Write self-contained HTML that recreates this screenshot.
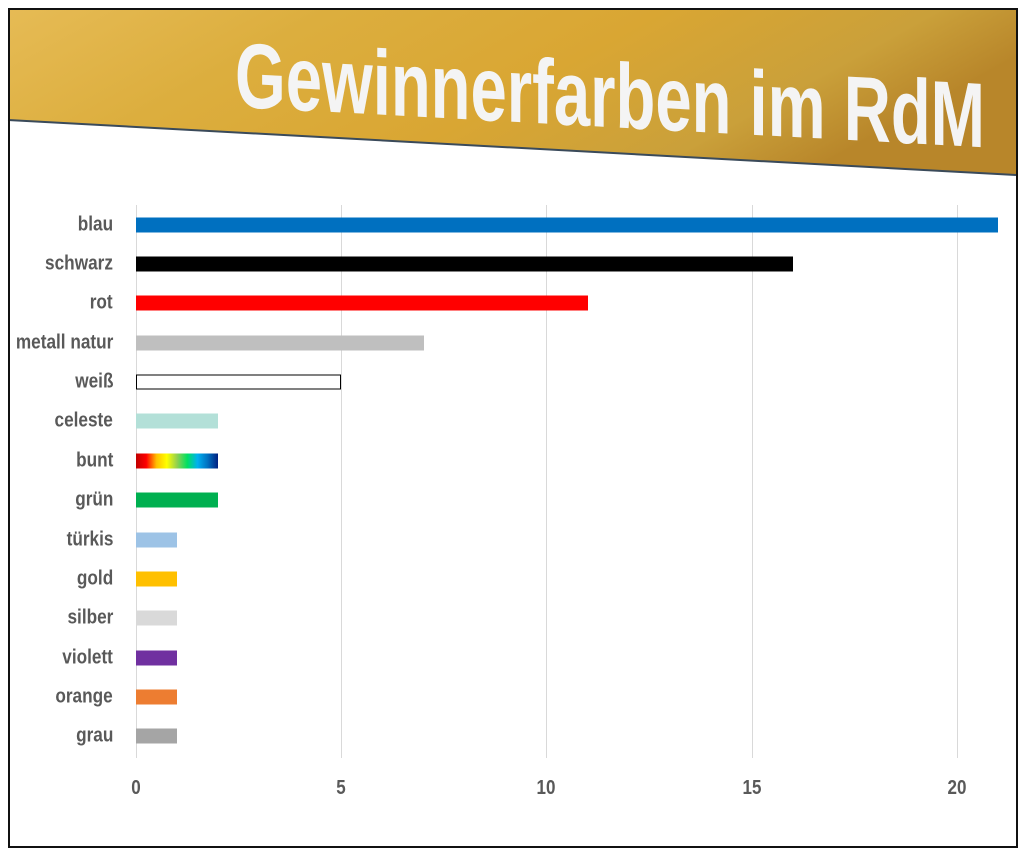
<!DOCTYPE html>
<html><head><meta charset="utf-8"><style>
body{margin:0;width:1024px;height:854px;background:#fff;overflow:hidden;position:relative;font-family:"Liberation Sans Narrow","Liberation Sans",sans-serif}
#frame{position:absolute;left:8px;top:8px;width:1006px;height:836px;border:2px solid #111;box-sizing:content-box}
.lbl{position:absolute;right:911px;font-weight:bold;font-size:20px;color:#595959;transform:translateY(-50%) scaleX(0.86);transform-origin:right center;white-space:nowrap}
.bar{position:absolute;left:136px;height:15px;transform:translateY(-50%)}
.grid{position:absolute;top:205px;height:553px;width:1px;background:#d9d9d9}
.tick{position:absolute;top:777px;font-weight:bold;font-size:20px;color:#595959;transform:translateX(-50%) scaleX(0.85)}
</style></head><body>
<svg width="1024" height="854" style="position:absolute;left:0;top:0">
<defs><linearGradient id="g" x1="0" y1="0" x2="1" y2="0.3">
<stop offset="0" stop-color="#e6bb55"/><stop offset="0.3" stop-color="#dcae3e"/><stop offset="0.6" stop-color="#d9a633"/><stop offset="0.85" stop-color="#caa03a"/><stop offset="1" stop-color="#b8862a"/></linearGradient></defs>
<polygon points="8,8 1016,8 1016,175 8,120" fill="url(#g)"/>
<line x1="8" y1="120" x2="1016" y2="175" stroke="#3a4a5a" stroke-width="2"/>
<text x="235" y="105" font-family="Liberation Sans Narrow, Liberation Sans, sans-serif" font-weight="bold" font-size="92" fill="#f4f4f4" textLength="750" lengthAdjust="spacingAndGlyphs" transform="skewY(3.1) translate(0,-11)">Gewinnerfarben im RdM</text>
</svg>
<div id="frame"></div>
<div class="grid" style="left:136px"></div><div class="grid" style="left:341px"></div><div class="grid" style="left:546px"></div><div class="grid" style="left:752px"></div><div class="grid" style="left:957px"></div>
<div class="tick" style="left:136px">0</div><div class="tick" style="left:341px">5</div><div class="tick" style="left:546px">10</div><div class="tick" style="left:752px">15</div><div class="tick" style="left:957px">20</div>

<div class="lbl" style="top:225px">blau</div><div class="bar" style="top:225px;width:862px;background:#0070c0"></div>
<div class="lbl" style="top:264px">schwarz</div><div class="bar" style="top:264px;width:657px;background:#000"></div>
<div class="lbl" style="top:303px">rot</div><div class="bar" style="top:303px;width:452px;background:#ff0000"></div>
<div class="lbl" style="top:343px">metall natur</div><div class="bar" style="top:343px;width:288px;background:#bfbfbf"></div>
<div class="lbl" style="top:382px">weiß</div><div class="bar" style="top:382px;width:203px;height:13px;border:1px solid #000;background:#fff"></div>
<div class="lbl" style="top:421px">celeste</div><div class="bar" style="top:421px;width:82px;background:#b3e0d8"></div>
<div class="lbl" style="top:461px">bunt</div><div class="bar" style="top:461px;width:82px;background:linear-gradient(90deg,#c00000,#ff0000,#ffc000,#ffff00,#92d050,#00e060,#00b0f0,#0070c0,#002080)"></div>
<div class="lbl" style="top:500px">grün</div><div class="bar" style="top:500px;width:82px;background:#00b050"></div>
<div class="lbl" style="top:540px">türkis</div><div class="bar" style="top:540px;width:41px;background:#9dc3e6"></div>
<div class="lbl" style="top:579px">gold</div><div class="bar" style="top:579px;width:41px;background:#ffc000"></div>
<div class="lbl" style="top:618px">silber</div><div class="bar" style="top:618px;width:41px;background:#d9d9d9"></div>
<div class="lbl" style="top:658px">violett</div><div class="bar" style="top:658px;width:41px;background:#7030a0"></div>
<div class="lbl" style="top:697px">orange</div><div class="bar" style="top:697px;width:41px;background:#ed7d31"></div>
<div class="lbl" style="top:736px">grau</div><div class="bar" style="top:736px;width:41px;background:#a5a5a5"></div>
</body></html>
